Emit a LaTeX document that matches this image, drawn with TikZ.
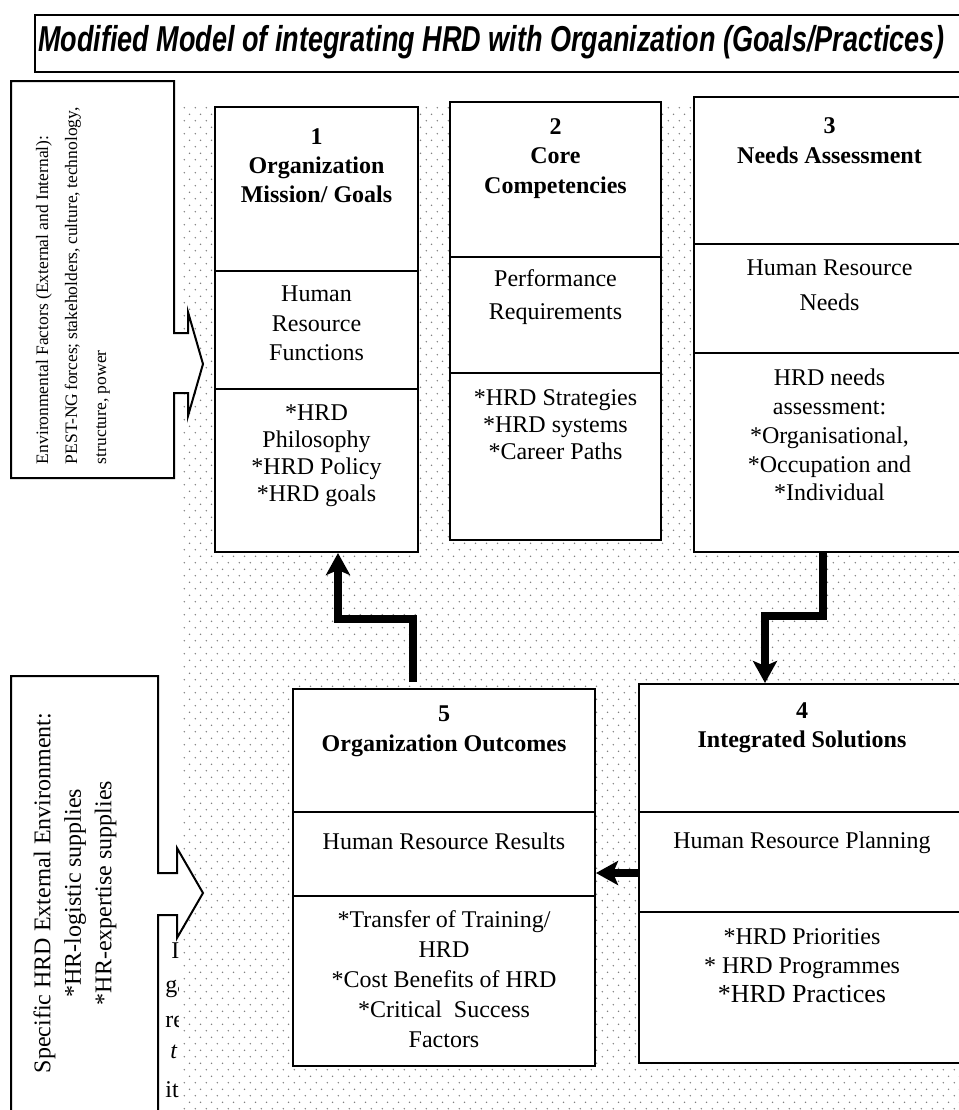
\documentclass[tikz,border=0pt]{standalone}
\usepackage{fontspec}
\usepackage{graphicx}
\setmainfont{Liberation Serif}
\newfontfamily\titlefont{Liberation Sans}
\usetikzlibrary{arrows.meta, calc, patterns.meta}

% dotted fill of the main panel
\tikzdeclarepattern{
  name=paneldots,
  type=uncolored,
  bottom left={(0pt,0pt)},
  top right={(5.35pt,6.7pt)},
  tile size={(5.35pt,6.7pt)},
  code={
    \pgfpathcircle{\pgfpoint{1.2pt}{1.2pt}}{0.42pt}
    \pgfpathcircle{\pgfpoint{3.875pt}{4.55pt}}{0.42pt}
    \pgfusepath{fill}
  }
}

\begin{document}
\begin{tikzpicture}[
  x=0.5pt, y=-0.5pt,
  cell/.style={draw, line width=1pt, fill=white, inner sep=0pt},
  head/.style={font=\fontsize{12}{#1}\selectfont\bfseries, align=center, inner sep=0pt},
  head/.default=14.5,
  body/.style={font=\fontsize{12}{#1}\selectfont, align=center, inner sep=0pt},
  body/.default=14.5,
  callout/.style={draw, line width=1pt, fill=white, line join=miter},
  flow/.style={-{Stealth[length=11pt, width=12pt, inset=2.5pt]}, line width=3.6pt, line join=miter},
  panelline/.style={draw=black!75, double, double distance=0.7pt, line width=0.35pt}
]
\useasboundingbox (0,0) rectangle (959,1110);
\clip (0,0) rectangle (959,1110);

% title
\node[draw, line width=1pt, fill=white, minimum width=470pt, minimum height=28.5pt] (titlebox) at (505,43.5) {};
\node[font=\titlefont\fontsize{18}{20}\selectfont\bfseries\itshape, inner sep=0pt] (title) at (491,42)
  {\resizebox{453pt}{\height}{Modified Model of integrating HRD with Organization (Goals/Practices)}};

% text showing through at the lower left
\node[anchor=base west, body, inner sep=0pt] (fragA) at (171,958) {I};
\node[anchor=base west, body, inner sep=0pt] (fragB) at (165,992) {ga};
\node[anchor=base west, body, inner sep=0pt] (fragC) at (165,1027) {re};
\node[anchor=base west, body, inner sep=0pt] (fragD) at (170,1058) {\itshape t};
\node[anchor=base west, body, inner sep=0pt] (fragE) at (165,1097) {its};

% dotted panel
\path[fill=white] (180,103) rectangle (975,1125);
\path[pattern=paneldots, pattern color=black!50] (180,103) rectangle (975,1125);
\draw[panelline] (975,103) -- (180,103) -- (180,1125);

% environment callouts
\draw[callout] (11,81) -- (174,81) -- (174,333) -- (188,333) -- (188,312) -- (203,364)
  -- (188,416) -- (188,393) -- (174,393) -- (174,478) -- (11,478) -- cycle;
\node[rotate=90, align=left, font=\fontsize{8.75}{14.5}\selectfont, inner sep=0pt] (envText) at (73,288)
  {Environmental Factors (External and Internal):\\
   \makebox[176pt][s]{PEST-NG forces; stakeholders, culture, technology,}\\
   structure, power};

\draw[callout] (11,676) -- (158,676) -- (158,873) -- (177,873) -- (177,848) -- (203,893)
  -- (177,938) -- (177,915) -- (158,915) -- (158,1125) -- (11,1125) -- cycle;
\node[rotate=90, body=15.25] (hrdText) at (75,893)
  {Specific HRD External Environment:\\*HR-logistic supplies\\*HR-expertise supplies};

% 1 mission / goals
\node[cell, minimum width=101.5pt, minimum height=82pt] (goalsTop) at (316.5,189) {};
\node[cell, minimum width=101.5pt, minimum height=59pt] (goalsMid) at (316.5,330) {};
\node[cell, minimum width=101.5pt, minimum height=81.5pt] (goalsLow) at (316.5,470.5) {};
\node[head] (goalsHead) at (316.5,166) {1\\Organization\\Mission/ Goals};
\node[body=14.75] (goalsFn) at (316.5,323.5) {Human\\Resource\\Functions};
\node[body=13.5] (goalsPol) at (316.5,456) {*HRD\\Philosophy\\*HRD Policy\\*HRD goals};

% 2 core competencies
\node[cell, minimum width=105.5pt, minimum height=77.5pt] (coreTop) at (555.5,179.5) {};
\node[cell, minimum width=105.5pt, minimum height=58pt] (coreMid) at (555.5,315) {};
\node[cell, minimum width=105.5pt, minimum height=83.5pt] (coreLow) at (555.5,456.5) {};
\node[head=14.75] (coreHead) at (555.5,158.5) {2\\Core\\Competencies};
\node[body=16.5] (coreReq) at (555.5,297.5) {Performance\\Requirements};
\node[body=13.5] (coreStr) at (555.5,425) {*HRD Strategies\\*HRD systems\\*Career Paths};

% 3 needs assessment
\node[cell, minimum width=135.5pt, minimum height=73.5pt] (needsTop) at (829.5,170.5) {};
\node[cell, minimum width=135.5pt, minimum height=54.5pt] (needsMid) at (829.5,298.5) {};
\node[cell, minimum width=135.5pt, minimum height=99.5pt] (needsLow) at (829.5,452.5) {};
\node[head=15] (needsHead) at (829.5,141) {3\\Needs Assessment};
\node[body=17.5] (needsHR) at (829.5,285.5) {Human Resource\\Needs};
\node[body=14.4] (needsList) at (829.5,435)
  {HRD needs\\assessment:\\*Organisational,\\*Occupation and\\*Individual};

% 4 integrated solutions
\node[cell, minimum width=163pt, minimum height=64pt] (solTop) at (802,748) {};
\node[cell, minimum width=163pt, minimum height=50pt] (solMid) at (802,862) {};
\node[cell, minimum width=163pt, minimum height=75.5pt] (solLow) at (802,987.5) {};
\node[head] (solHead) at (802,727.5) {4\\Integrated Solutions};
\node[body] (solPlan) at (802,843) {Human Resource Planning};
\node[body] (solList) at (802,966)
  {*HRD Priorities\\* HRD Programmes\\{\fontsize{13}{14.5}\selectfont *HRD Practices}};

% 5 organization outcomes
\node[cell, minimum width=151pt, minimum height=61.5pt] (outTop) at (444,750.5) {};
\node[cell, minimum width=151pt, minimum height=42pt] (outMid) at (444,854) {};
\node[cell, minimum width=151pt, minimum height=85pt] (outLow) at (444,981) {};
\node[head=15] (outHead) at (444,731) {5\\Organization Outcomes};
\node[body] (outRes) at (444,841) {Human Resource Results};
\node[body=15] (outList) at (444,979)
  {*Transfer of Training/\\HRD\\*Cost Benefits of HRD\\*Critical\ \ Success\\Factors};

% flow between the boxes
\draw[flow] ([xshift=-3.25pt]needsLow.south) |- ($(solTop.north)+(-37,-67)$) -- ([xshift=-18.5pt]solTop.north);
\draw[flow] ([yshift=-5.5pt]solMid.west) -- ([yshift=-5.5pt]solMid.west -| outMid.east);
\draw[flow, shorten <=3pt] ([xshift=-15.5pt]outTop.north) |- ($(goalsLow.south)+(21.5,66)$) -- ([xshift=10.75pt]goalsLow.south);
\end{tikzpicture}
\end{document}
